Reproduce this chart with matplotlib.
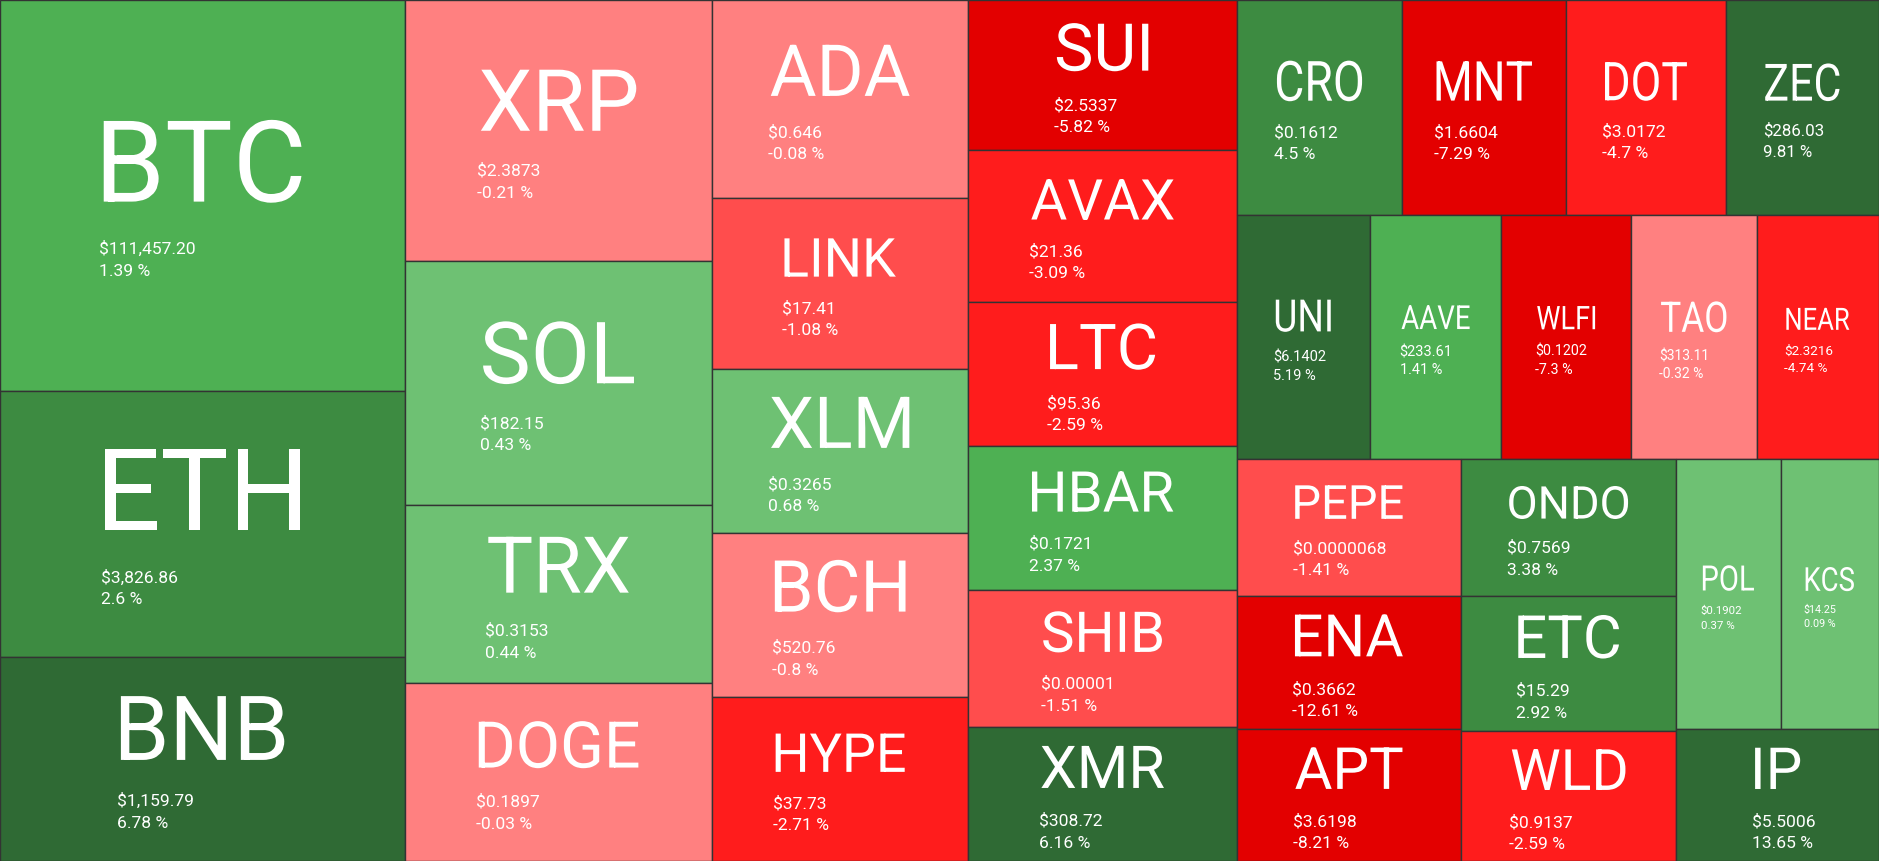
import matplotlib.pyplot as plt
from matplotlib.patches import Rectangle, PathPatch
from matplotlib.textpath import TextPath
from matplotlib.font_manager import FontProperties
from matplotlib.transforms import Affine2D

# coin data (tile size is the relative area)
symbols = ['BTC', 'ETH', 'BNB', 'XRP', 'SOL', 'TRX', 'DOGE', 'ADA', 'LINK', 'XLM', 'BCH', 'HYPE',
           'SUI', 'AVAX', 'LTC', 'HBAR', 'SHIB', 'XMR', 'CRO', 'MNT', 'DOT', 'ZEC',
           'UNI', 'AAVE', 'WLFI', 'TAO', 'NEAR', 'PEPE', 'ENA', 'APT', 'ONDO', 'ETC', 'WLD',
           'POL', 'KCS', 'IP']
prices = ['$111,457.20', '$3,826.86', '$1,159.79', '$2.3873', '$182.15', '$0.3153', '$0.1897',
          '$0.646', '$17.41', '$0.3265', '$520.76', '$37.73',
          '$2.5337', '$21.36', '$95.36', '$0.1721', '$0.00001', '$308.72', '$0.1612', '$1.6604',
          '$3.0172', '$286.03', '$6.1402', '$233.61', '$0.1202', '$313.11', '$2.3216',
          '$0.0000068', '$0.3662', '$3.6198', '$0.7569', '$15.29', '$0.9137',
          '$0.1902', '$14.25', '$5.5006']
changes = [1.39, 2.6, 6.78, -0.21, 0.43, 0.44, -0.03, -0.08, -1.08, 0.68, -0.8, -2.71,
           -5.82, -3.09, -2.59, 2.37, -1.51, 6.16, 4.5, -7.29, -4.7, 9.81,
           5.19, 1.41, -7.3, -0.32, -4.74, -1.41, -12.61, -8.21, 3.38, 2.92, -2.59,
           0.37, 0.09, 13.65]
sizes = [1102, 750, 575, 558, 520, 381, 379, 353, 306, 291, 293, 293,
         280, 284, 269, 269, 255, 251, 247, 245, 238, 229,
         226, 224, 220, 214, 208, 213, 208, 206, 205, 203, 194,
         196, 185, 186]

# how the tiles are nested (columns -> rows -> columns ...)
groups = [
    ['BTC', 'ETH', 'BNB'],
    ['XRP', 'SOL', 'TRX', 'DOGE'],
    ['ADA', 'LINK', 'XLM', 'BCH', 'HYPE'],
    ['SUI', 'AVAX', 'LTC', 'HBAR', 'SHIB', 'XMR'],
    [['CRO', 'MNT', 'DOT', 'ZEC'],
     ['UNI', 'AAVE', 'WLFI', 'TAO', 'NEAR'],
     [['PEPE', 'ENA', 'APT'], ['ONDO', 'ETC', 'WLD'], [['POL', 'KCS'], 'IP']]],
]

size_of = dict(zip(symbols, sizes))


def total(node):
    if isinstance(node, str):
        return size_of[node]
    return sum(total(n) for n in node)


def layout(node, x, y, w, h, horiz, out):
    if isinstance(node, str):
        out[node] = (x, y, w, h)
        return
    t = total(node)
    for child in node:
        f = total(child) / t
        if horiz:
            layout(child, x, y, w * f, h, False, out)
            x += w * f
        else:
            layout(child, x, y, w, h * f, True, out)
            y += h * f


def color_for(c):
    if c >= 5:
        return '#2f6a34'
    if c >= 2.5:
        return '#3d8b41'
    if c >= 1:
        return '#4eb053'
    if c >= 0:
        return '#6ec173'
    if c > -1:
        return '#ff8080'
    if c > -2:
        return '#ff4d4d'
    if c > -5:
        return '#ff1c1c'
    return '#e30000'


W, H = 1879, 861
rects = {}
layout(groups, 0, 0, W, H, True, rects)

plt.rcParams['font.family'] = ['Roboto', 'DejaVu Sans']
fp = FontProperties(family='Roboto')
fig = plt.figure(figsize=(W / 100, H / 100), dpi=100)
ax = fig.add_axes([0, 0, 1, 1])
ax.set_xlim(0, W)
ax.set_ylim(H, 0)
ax.axis('off')

PT = 72 / 100  # px -> pt

for sym, price, chg in zip(symbols, prices, changes):
    x, y, w, h = rects[sym]
    ax.add_patch(Rectangle((x, y), w, h, facecolor=color_for(chg),
                           edgecolor='#333333', linewidth=1.0))

    em_s = min(0.84 * w / len(sym), 0.44 * h)
    sx = 1.0
    if w < 180:  # narrow tiles: taller, condensed lettering
        em_s *= 1.2
        sx = 1 / 1.2
    em_p = min(17.5, 0.11 * w)
    cap = 0.711 * em_s
    gap = 0.27 * em_s + 1.25 * em_p
    line = 1.25 * em_p
    block = cap + gap + line
    base_s = y + (h - block) / 2 + 3 + cap

    # symbol drawn as a path so it can be condensed horizontally
    tp = TextPath((0, 0), sym, size=1, prop=fp)
    ext = tp.get_extents()
    cx = (ext.x0 + ext.x1) / 2
    tr = Affine2D().translate(-cx, 0).scale(em_s * sx, -em_s).translate(x + w / 2, base_s)
    ax.add_patch(PathPatch(tr.transform_path(tp), facecolor='white', edgecolor='none', lw=0))
    ink_left = x + w / 2 - (cx - ext.x0) * em_s * sx

    left = ink_left - 0.03 * em_s - 1
    ax.text(left, base_s + gap, price, color='white', fontsize=em_p * PT,
            ha='left', va='baseline')
    ax.text(left, base_s + gap + line, f'{chg} %', color='white', fontsize=em_p * PT,
            ha='left', va='baseline')

plt.savefig('out.png', dpi=100)
